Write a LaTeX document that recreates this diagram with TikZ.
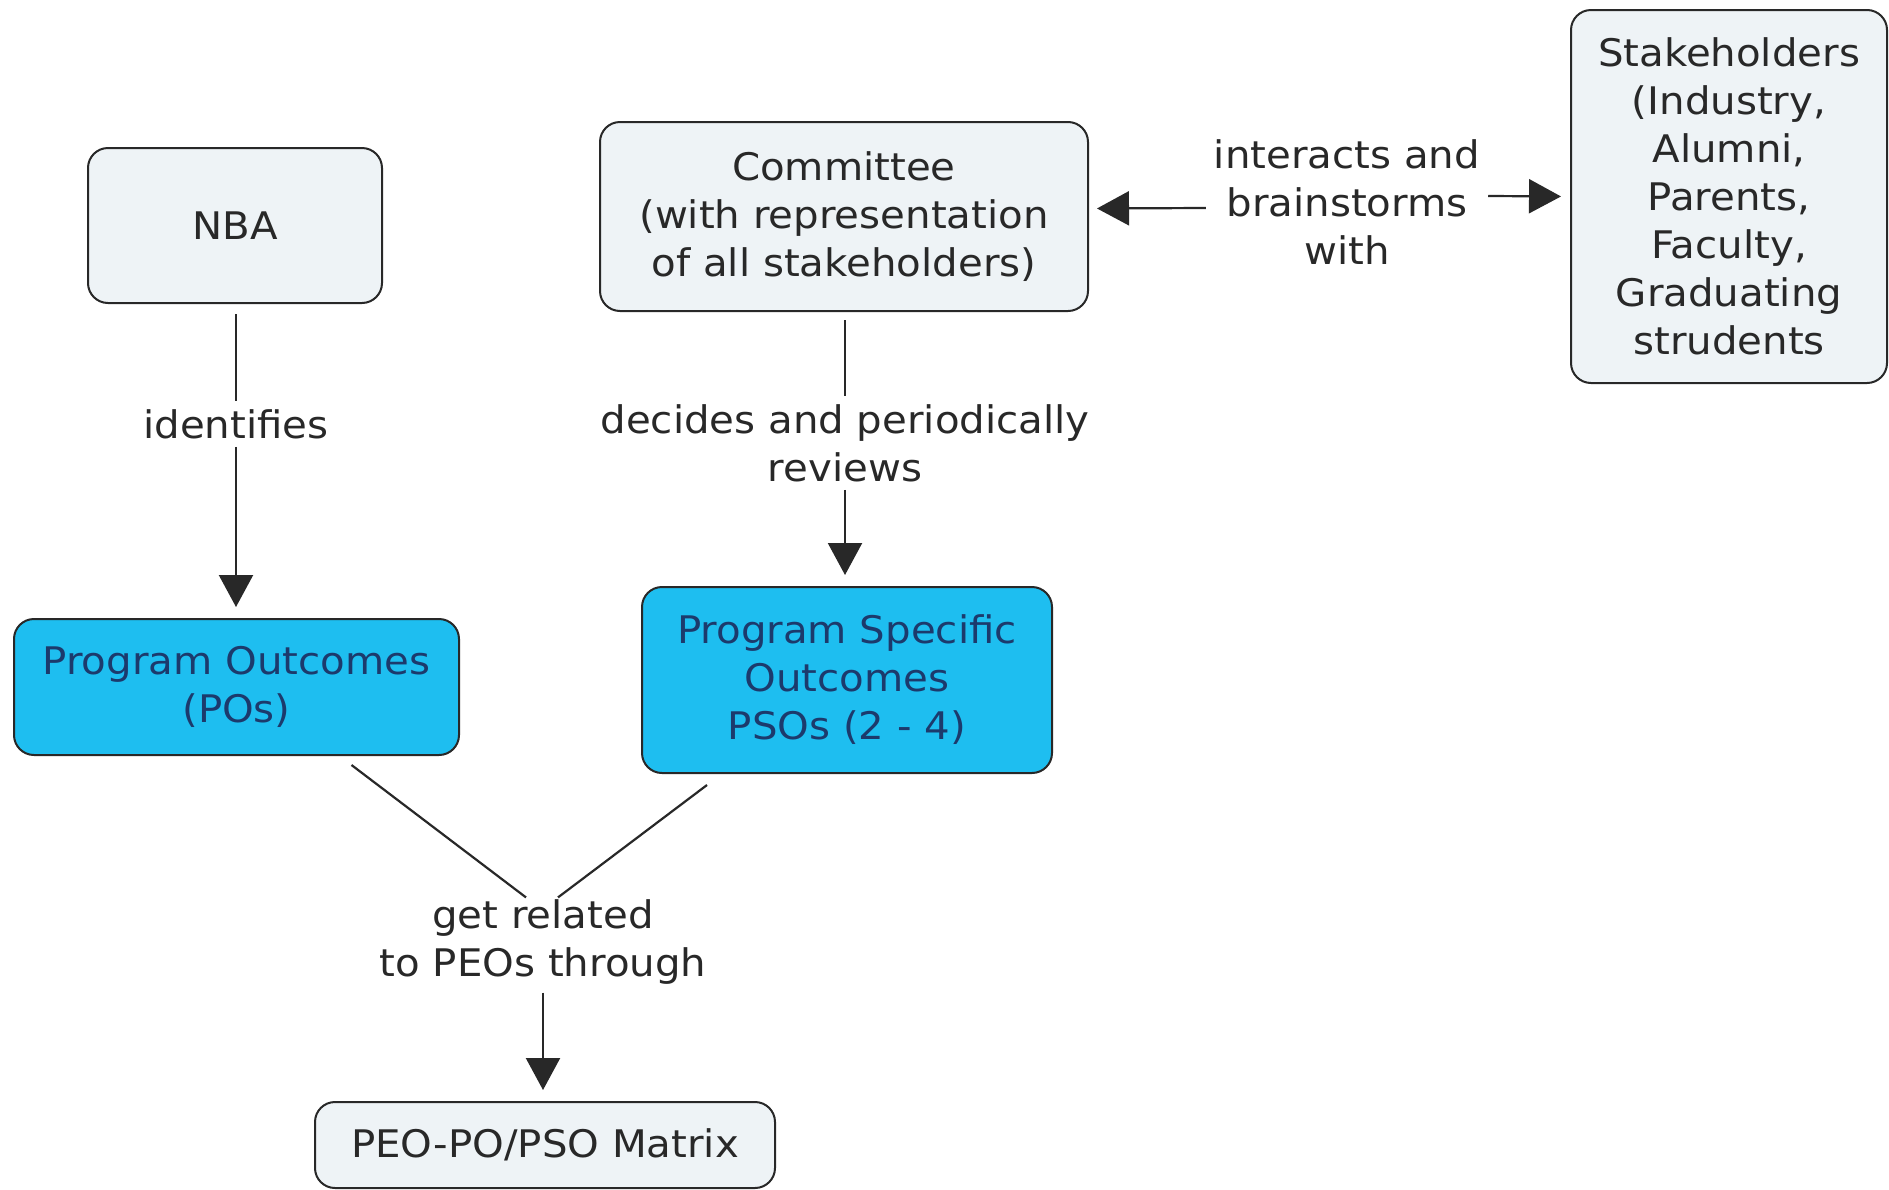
\documentclass[tikz,border=0pt]{standalone}
\usepackage{fontspec}
\setmainfont[FakeStretch=1.06]{DejaVu Sans}
\usetikzlibrary{arrows.meta}
\definecolor{boxgrey}{RGB}{238,243,246}
\definecolor{boxblue}{RGB}{30,190,240}
\definecolor{navy}{RGB}{28,58,108}
\definecolor{ink}{RGB}{40,40,40}
\begin{document}
\begin{tikzpicture}[x=1pt,y=-1pt,
  every node/.style={font=\fontsize{38}{48}\selectfont, align=center, inner sep=0pt},
  greybox/.style={draw=ink, line width=2pt, rounded corners=20pt, fill=boxgrey, text=ink},
  bluebox/.style={draw=ink, line width=2pt, rounded corners=20pt, fill=boxblue, text=navy},
  lbl/.style={fill=white, text=ink, inner sep=8pt},
  conn/.style={draw=ink, line width=2.2pt},
  arr/.style={conn, -{Triangle[width=34pt,length=32pt]}}
]
\useasboundingbox (0,0) rectangle (1889,1189);
\fill[white] (0,0) rectangle (1889,1189);

\node[greybox, minimum width=294pt, minimum height=155pt] (nba) at (235,225.5) {NBA};
\node[greybox, minimum width=488pt, minimum height=189pt] (comm) at (844,216.5)
  {Committee\\(with representation\\of all stakeholders)};
\node[greybox, minimum width=316pt, minimum height=373pt] (stake) at (1729,196.5)
  {Stakeholders\\(Industry,\\Alumni,\\Parents,\\Faculty,\\Graduating\\strudents};
\node[bluebox, minimum width=445pt, minimum height=136pt] (po) at (236.5,687)
  {Program Outcomes\\(POs)};
\node[bluebox, minimum width=410pt, minimum height=186pt] (pso) at (847,680)
  {Program Specific\\Outcomes\\PSOs (2 - 4)};
\node[greybox, minimum width=460pt, minimum height=86pt] (mat) at (545,1145)
  {PEO-PO/PSO Matrix};

\node[lbl] (lid) at (236,424) {identifies};
\node[lbl] (ldec) at (845,443) {decides and periodically\\reviews};
\node[lbl] (lint) at (1347,202) {interacts and\\brainstorms\\with};
\node[lbl] (lget) at (543,942) {get related\\to PEOs through};

\draw[conn, shorten <=10pt] (nba.south -| lid.north) -- (lid.north);
\draw[arr, shorten >=11pt] (lid.south) -- (po.north -| lid.south);
\draw[conn, shorten <=8pt] (comm.south -| ldec.north) -- (ldec.north);
\draw[arr, shorten >=11pt] (ldec.south) -- (pso.north -| ldec.south);
\draw[arr, shorten >=8pt] ([yshift=-6pt]lint.west) -- ([yshift=8pt]comm.east);
\draw[arr, shorten >=9pt] ([yshift=6pt]lint.east) -- (stake.west);
\draw[conn] ([xshift=115pt,yshift=-9pt]po.south) -- ([xshift=-17pt,yshift=-6pt]lget.north);
\draw[conn] ([xshift=-140pt,yshift=-11pt]pso.south) -- ([xshift=15pt,yshift=-6pt]lget.north);
\draw[arr, shorten >=11pt] (lget.south) -- (mat.north -| lget.south);
\end{tikzpicture}
\end{document}
